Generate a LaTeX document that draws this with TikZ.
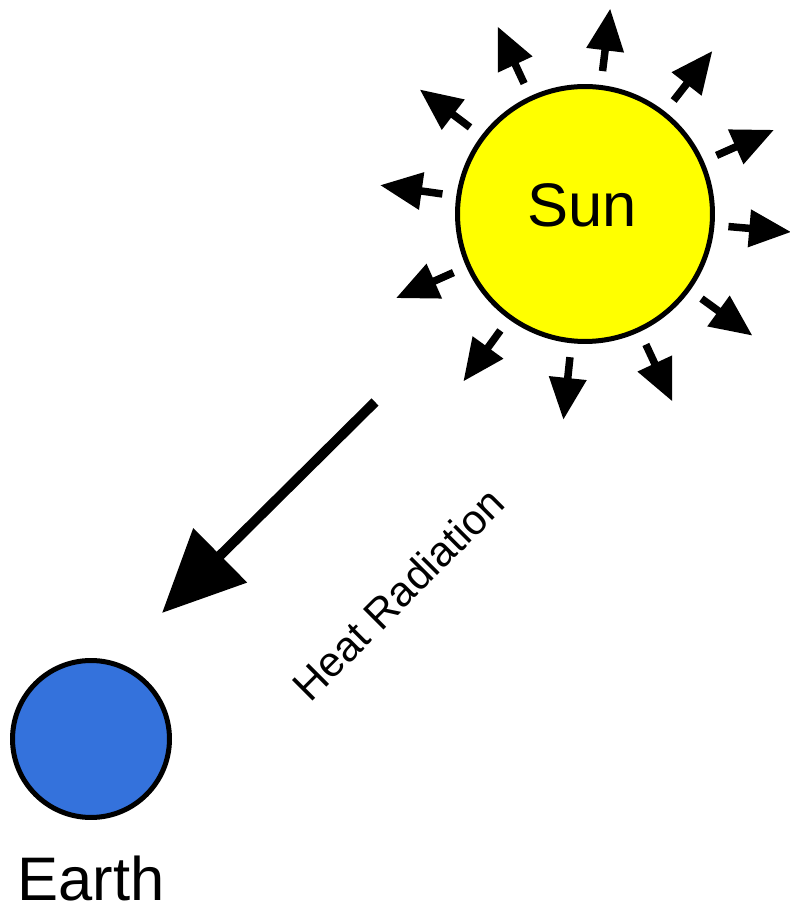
\documentclass[tikz,border=0pt]{standalone}
\usepackage{fontspec}
\setmainfont{Liberation Sans}
\usepackage{tikz}
\usetikzlibrary{positioning,arrows.meta,calc}
\definecolor{sunyellow}{RGB}{255,255,0}
\definecolor{earthblue}{RGB}{52,114,220}

\begin{document}
\begin{tikzpicture}[x=0.02cm, y=0.02cm,
  planet/.style={circle, draw=black, line width=0.1cm, inner sep=0pt},
  ray/.style={line width=0.15cm, -{Triangle[length=0.84cm, width=0.72cm]}},
  beam/.style={line width=0.2cm, -{Triangle[length=1.64cm, width=1.48cm]}},
  lab/.style={font=\fontsize{35}{40}\selectfont, inner sep=0pt}]
\useasboundingbox (0,0) rectangle (790,906);
\node[planet, fill=sunyellow, minimum size=5.1cm] (sun) at (585,692) {};
\node[lab] (sunlabel) at (582,701) {Sun};
\node[planet, fill=earthblue, minimum size=3.14cm] (earth) at (91,167) {};
\node[lab, below=0.72cm of earth] (earthlabel) {Earth};
% rays round the sun
\foreach \a in {83,115,52,143,24,172,-5,204,-36,234,264,295}
  \draw[ray] ($(sun.center)+(\a:2.88cm)$) -- ++(\a:1.26cm);
% radiation towards the earth
\coordinate (beamstart) at (375,504);
\coordinate (beamend) at (162,293);
\draw[beam] (beamstart) -- (beamend);
\node[font=\fontsize{24}{30}\selectfont, rotate=45] (heatlabel) at (398,312) {Heat Radiation};
\end{tikzpicture}
\end{document}
